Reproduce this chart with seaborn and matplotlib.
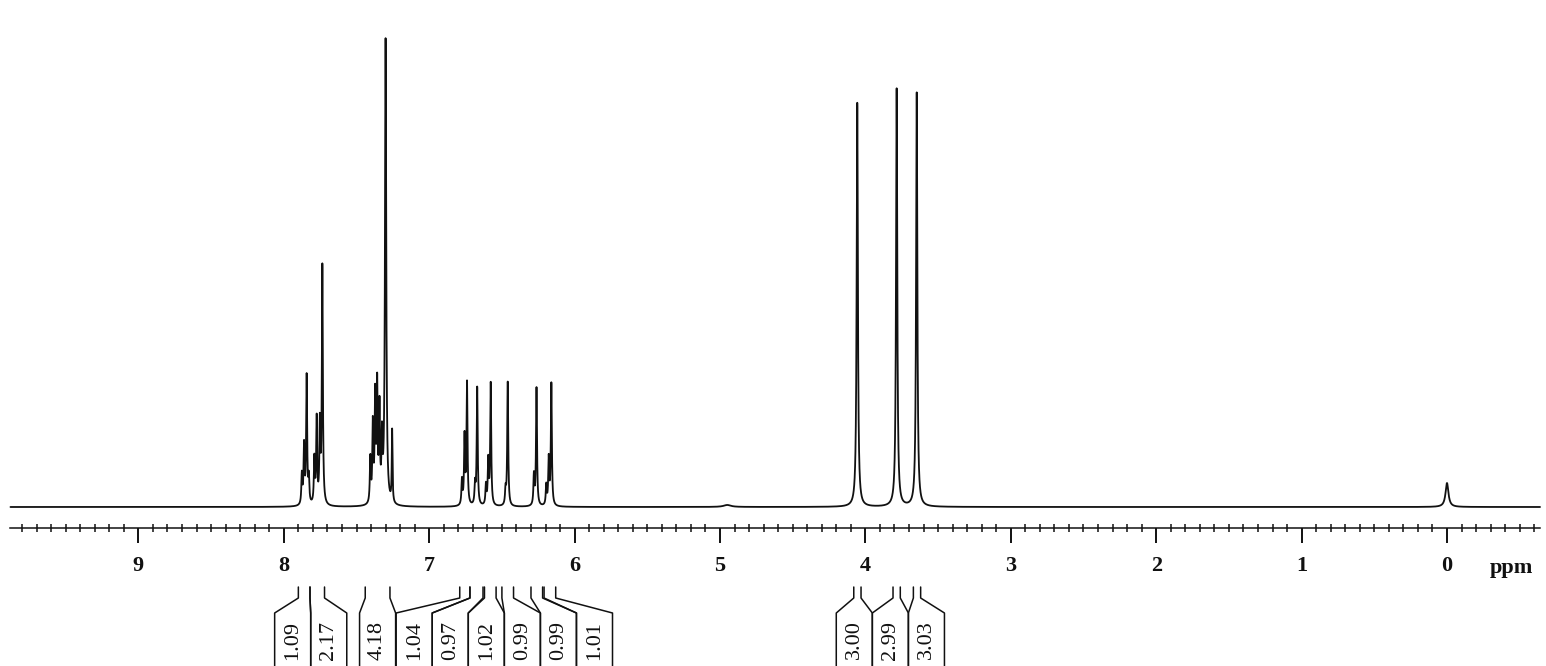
import numpy as np
import pandas as pd
import matplotlib
matplotlib.use("Agg")
import matplotlib.pyplot as plt
from matplotlib.ticker import FixedLocator
import seaborn as sns

# --- 피크 목록 (ppm, 높이, 반폭) : 그림에서 읽은 값 ---
peak_ppm = [7.876, 7.861, 7.843, 7.828,
            7.790, 7.774, 7.752, 7.735,
            7.405, 7.388, 7.372, 7.358, 7.342, 7.325, 7.300, 7.255,
            6.775, 6.757, 6.740, 6.685, 6.670, 6.610, 6.594, 6.577,
            6.475, 6.460, 6.280, 6.262, 6.195, 6.178, 6.160,
            4.950, 4.056, 3.785, 3.647, 0.000]
peak_height = [30, 58, 128, 25,
               45, 85, 78, 238,
               45, 78, 105, 115, 92, 60, 465, 72,
               25, 68, 122, 20, 118, 20, 44, 122,
               15, 124, 30, 118, 20, 46, 122,
               2, 404, 418, 414, 24]
peak_hwhm = [0.004, 0.004, 0.004, 0.004,
             0.004, 0.004, 0.004, 0.004,
             0.004, 0.004, 0.004, 0.004, 0.004, 0.004, 0.005, 0.003,
             0.004, 0.004, 0.004, 0.004, 0.004, 0.004, 0.004, 0.004,
             0.004, 0.004, 0.004, 0.004, 0.004, 0.004, 0.004,
             0.030, 0.005, 0.005, 0.005, 0.012]

# --- 적분 구간 및 값 ---
int_start = [7.90, 7.82, 7.44, 6.79, 6.72, 6.62, 6.50, 6.30, 6.21, 4.08, 3.81, 3.67]
int_end = [7.82, 7.72, 7.27, 6.72, 6.63, 6.54, 6.42, 6.22, 6.13, 4.03, 3.76, 3.62]
int_value = ["1.09", "2.17", "4.18", "1.04", "0.97", "1.02", "0.99", "0.99", "1.01",
             "3.00", "2.99", "3.03"]

major_ticks = [0, 1, 2, 3, 4, 5, 6, 7, 8, 9]
axis_unit = "ppm"

# --- 스펙트럼 계산 (로렌츠 선형의 합) ---
ppm = np.arange(9.88, -0.64, -0.0005)
spec = np.zeros_like(ppm)
for p, h, w in zip(peak_ppm, peak_height, peak_hwhm):
    spec += h / (1 + ((ppm - p) / w) ** 2)
df = pd.DataFrame({"ppm": ppm, "intensity": spec})

sns.set_theme(style="white")
plt.rcParams['font.family'] = ['Liberation Serif', 'DejaVu Serif']

fig = plt.figure(figsize=(15.46, 6.66), dpi=100)
ax = fig.add_axes([0, 0, 1, 1])
ax.set_facecolor("white")

sns.lineplot(data=df, x="ppm", y="intensity", estimator=None, sort=False,
             color="#111111", linewidth=1.3, ax=ax)

ax.set_xlim(9.952, -0.681)
ax.set_ylim(-159, 507)

# 눈금자 (x축)
for s in ["top", "left", "right"]:
    ax.spines[s].set_visible(False)
ax.spines["bottom"].set_position(("data", -21))
ax.spines["bottom"].set_bounds(9.88, -0.64)
ax.spines["bottom"].set_linewidth(1.1)
ax.spines["bottom"].set_color("#111111")
ax.set_yticks([])
ax.set_xticks(major_ticks)
ax.set_xticklabels([str(t) for t in major_ticks], fontweight="bold", fontsize=16)
ax.xaxis.set_minor_locator(FixedLocator(np.round(np.arange(-0.6, 9.85, 0.1), 1)))
ax.tick_params(axis="x", which="major", direction="out", length=11, width=1.4,
               pad=9, colors="#111111", bottom=True)
ax.tick_params(axis="x", which="minor", direction="inout", length=6, width=1.1,
               colors="#111111", bottom=True)
ax.set_xlabel("")
ax.set_ylabel("")
ax.text(-0.44, -61, axis_unit, ha="center", va="center", fontsize=16,
        fontweight="bold", color="#111111")

# --- 적분 라벨 배치: 겹치는 상자는 묶어서 평균 위치에 정렬 ---
box_w = 0.248
centers = [(a + b) / 2 for a, b in zip(int_start, int_end)]
clusters = [[i] for i in range(len(centers))]
merged = True
while merged:
    merged = False
    for k in range(len(clusters) - 1):
        c1 = np.mean([centers[i] for i in clusters[k]])
        c2 = np.mean([centers[i] for i in clusters[k + 1]])
        right1 = c1 - len(clusters[k]) * box_w / 2
        left2 = c2 + len(clusters[k + 1]) * box_w / 2
        if left2 > right1:
            clusters[k] = clusters[k] + clusters[k + 1]
            del clusters[k + 1]
            merged = True
            break

box_pos = {}
for cl in clusters:
    c = np.mean([centers[i] for i in cl])
    left = c + len(cl) * box_w / 2
    for n, i in enumerate(cl):
        box_pos[i] = (left - n * box_w, left - (n + 1) * box_w)

for i, val in enumerate(int_value):
    bl, br = box_pos[i]
    ax.plot([int_start[i], int_start[i], bl, bl], [-80, -91, -106, -175],
            color="#111111", lw=1.1, clip_on=False)
    ax.plot([int_end[i], int_end[i], br, br], [-80, -91, -106, -175],
            color="#111111", lw=1.1, clip_on=False)
    ax.text((bl + br) / 2, -133, val, rotation=90, ha="center", va="center",
            fontsize=16, color="#111111")

fig.savefig("out.png", dpi=100, facecolor="white")
